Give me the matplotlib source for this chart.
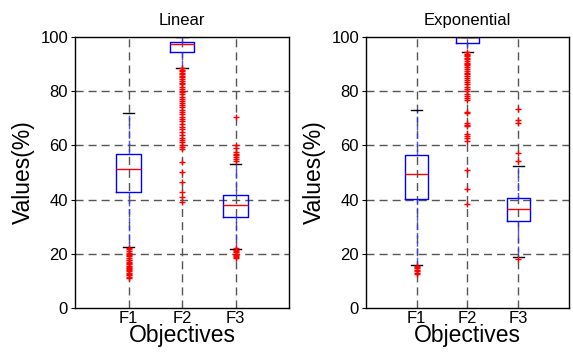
import matplotlib
matplotlib.use("Agg")
import matplotlib.pyplot as plt

plt.rcParams['font.family'] = ['Liberation Sans', 'DejaVu Sans']

objectives = ["F1", "F2", "F3"]
titles = ["Linear", "Exponential"]
yticks = [0, 20, 40, 60, 80, 100]

# Linear: per objective (lower whisker, Q1, median, Q3, upper whisker)
lin_whislo = [22.6, 88.7, 21.8]
lin_q1 = [42.9, 94.4, 33.7]
lin_med = [51.3, 97.3, 38.1]
lin_q3 = [56.8, 98.3, 41.6]
lin_whishi = [71.8, 100.0, 53.1]
lin_fliers_f1 = [22.3, 21.6, 21.1, 20.4, 20.0, 19.5, 19.1, 18.4, 17.9, 17.6, 17.0,
                 16.5, 16.2, 15.6, 15.3, 14.8, 14.3, 14.0, 13.6, 13.0, 12.7, 12.1, 11.6, 11.0]
lin_fliers_f2 = [88.5, 88.0, 87.3, 86.9, 86.2, 85.6, 85.1, 84.4, 83.8, 83.1, 82.5, 81.7,
                 81.0, 80.2, 79.6, 78.9, 78.0, 77.2, 76.5, 75.6, 74.9, 74.1, 73.2, 72.4,
                 71.5, 70.6, 69.8, 68.9, 67.9, 66.8, 66.0, 65.1, 64.0, 62.9, 62.0, 61.1,
                 60.3, 59.4, 58.6, 53.7, 50.1, 46.4, 42.9, 40.8, 39.3]
lin_fliers_f3 = [70.6, 60.1, 58.9, 57.7, 57.0, 56.3, 55.6, 55.0, 54.4,
                 22.0, 21.5, 21.0, 20.6, 20.1, 19.7, 19.3, 18.9, 18.6]

# Exponential
exp_whislo = [15.7, 94.6, 18.9]
exp_q1 = [40.2, 97.8, 32.0]
exp_med = [49.4, 100.0, 36.5]
exp_q3 = [56.6, 100.0, 40.7]
exp_whishi = [73.0, 100.0, 52.5]
exp_fliers_f1 = [15.4, 15.0, 14.6, 14.2, 13.6, 12.9, 12.4]
exp_fliers_f2 = [94.4, 93.9, 93.5, 92.9, 92.4, 91.8, 91.3, 90.6, 90.0, 89.5, 88.8,
                 88.2, 87.6, 86.9, 86.2, 85.5, 84.8, 84.0, 83.3, 82.5, 81.6, 80.9,
                 80.0, 79.1, 78.3, 77.5, 76.6, 72.4, 71.8, 68.3, 67.6, 67.0, 64.3,
                 63.6, 62.8, 61.6, 50.9, 43.8, 38.4]
exp_fliers_f3 = [73.4, 69.2, 68.3, 57.1, 54.4, 18.2]

datasets = [
    (lin_whislo, lin_q1, lin_med, lin_q3, lin_whishi, [lin_fliers_f1, lin_fliers_f2, lin_fliers_f3]),
    (exp_whislo, exp_q1, exp_med, exp_q3, exp_whishi, [exp_fliers_f1, exp_fliers_f2, exp_fliers_f3]),
]

fig = plt.figure(figsize=(5.73, 3.54), dpi=100)
positions_ax = [[0.1309, 0.1299, 0.3735, 0.7655], [0.6387, 0.1299, 0.3543, 0.7655]]

dash = (0, (5.8, 3.6))
for k, (rect, data) in enumerate(zip(positions_ax, datasets)):
    ax = fig.add_axes(rect)
    wlo, q1, med, q3, whi, fl = data
    stats = []
    for i in range(3):
        stats.append(dict(whislo=wlo[i], q1=q1[i], med=med[i], q3=q3[i], whishi=whi[i],
                          fliers=fl[i], label=objectives[i]))
    ax.set_xlim(0, 4)
    ax.set_ylim(0, 100)
    for y in [20, 40, 60, 80]:
        ax.axhline(y, color='#555555', lw=1, linestyle=dash, zorder=0)
    for x in [1, 2, 3]:
        ax.axvline(x, color='#555555', lw=1, linestyle=dash, zorder=0)
    ax.bxp(stats, positions=[1, 2, 3], widths=0.45, capwidths=0.22,
           boxprops=dict(color='#0000ff', lw=1),
           medianprops=dict(color='#ff0000', lw=1),
           whiskerprops=dict(color='#3333ff', lw=1, linestyle=(0, (4, 2)), alpha=0.85),
           capprops=dict(color='black', lw=1),
           flierprops=dict(marker='+', markeredgecolor='#ff0000', markersize=4,
                           markeredgewidth=1, linestyle='none'),
           manage_ticks=False)
    ax.set_xticks([1, 2, 3])
    ax.set_xticklabels(objectives)
    ax.set_yticks(yticks)
    ax.tick_params(axis='both', labelsize=12, direction='out', length=3, width=0.8, pad=2)
    ax.tick_params(axis='x', length=0, pad=2)
    for s in ax.spines.values():
        s.set_color('black')
        s.set_linewidth(1)
    ax.set_title(titles[k], fontsize=12, pad=9)
    ax.set_xlabel("Objectives", fontsize=16.5, labelpad=-1)
    ax.set_ylabel("Values(%)", fontsize=16.5, labelpad=4)

fig.savefig("out.png", dpi=100)
